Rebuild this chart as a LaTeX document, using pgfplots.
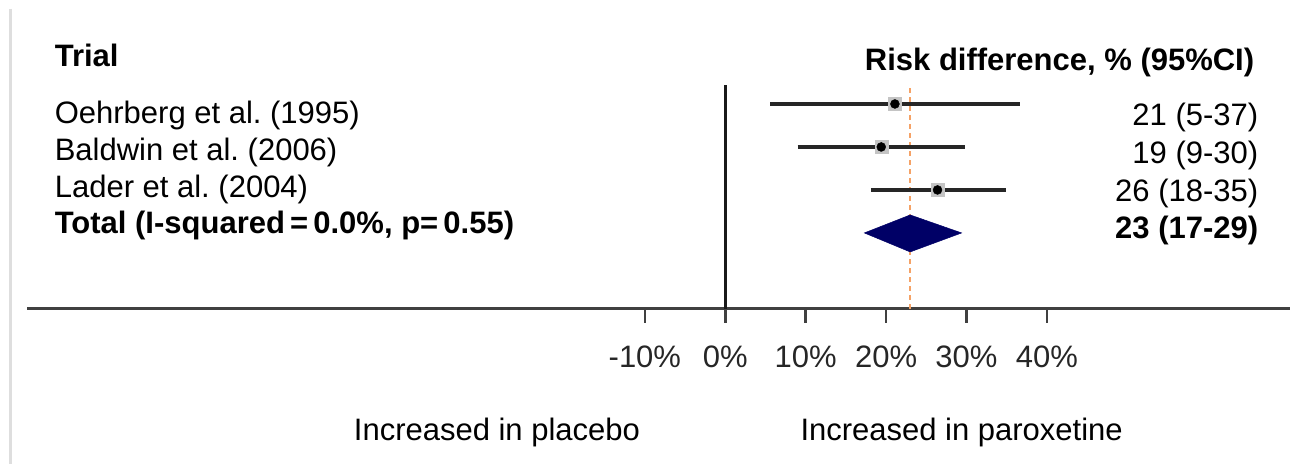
\documentclass[border=0pt]{standalone}
\usepackage{fontspec}
\setmainfont{Liberation Sans}
\usepackage{pgfplots}
\pgfplotsset{compat=1.18}
\definecolor{navy}{HTML}{000066}
\definecolor{dashorange}{HTML}{F5A266}
\definecolor{sqgray}{HTML}{C4C4C4}
\definecolor{axgray}{HTML}{404040}
\frenchspacing
\begin{document}
\fontsize{31bp}{37bp}\selectfont\frenchspacing
\begin{tikzpicture}
\begin{axis}[
  scale only axis, width=1263bp, height=464bp,
  xmin=-86.85, xmax=70.2, ymin=-155, ymax=309,
  axis x line=middle, axis y line=none,
  x axis line style={-, line width=3bp, color=axgray},
  xtick={-10,0,10,20,30,40},
  xticklabels={-10\%,0\%,10\%,20\%,30\%,40\%},
  xtick align=outside,
  major tick length=14bp,
  every tick/.style={line width=2.5bp, color=axgray},
  xticklabel style={font=\fontsize{31bp}{37bp}\selectfont, text=black!85, yshift=-12bp},
  ytick=\empty,
  clip=false,
]
% reference lines
\addplot[dashorange, line width=2bp, dash pattern=on 5bp off 4bp] coordinates {(23,0) (23,224)};
\addplot[black!90, line width=2.5bp] coordinates {(0,0) (0,224)};
% confidence intervals
\addplot[black!85, line width=3.5bp] coordinates {(5.6,205) (36.7,205)};
\addplot[black!85, line width=3.5bp] coordinates {(9.0,162) (29.8,162)};
\addplot[black!85, line width=3.5bp] coordinates {(18.1,119) (34.9,119)};
% weight squares and point estimates
\addplot[only marks, mark=square*, mark size=6.5bp, sqgray, mark options={draw=sqgray, fill=sqgray}] coordinates {(21.1,205) (19.4,162) (26.4,119)};
\addplot[only marks, mark=*, mark size=4.5bp, black] coordinates {(21.1,205) (19.4,162) (26.4,119)};
% pooled diamond
\addplot[fill=navy, draw=navy, line width=0.5bp] coordinates {(17.3,76) (23,94) (29.4,76) (23,57)} -- cycle;
% texts
\node[anchor=west, font=\bfseries] at (axis cs:-84.7,254) {Trial};
\node[anchor=west] at (axis cs:-84.7,193) {Oehrberg et al. (1995)};
\node[anchor=west] at (axis cs:-84.7,156) {Baldwin et al. (2006)};
\node[anchor=west] at (axis cs:-84.7,119) {Lader et al. (2004)};
\node[anchor=west, font=\bfseries] at (axis cs:-84.7,83) {Total (I-squared\,=\,0.0\%, p=\,0.55)};
\node[anchor=east, font=\bfseries] at (axis cs:67.1,246) {Risk difference, \% (95\%CI)};
\node[anchor=east] at (axis cs:67.6,191) {21 (5-37)};
\node[anchor=east] at (axis cs:67.6,153) {19 (9-30)};
\node[anchor=east] at (axis cs:67.6,115) {26 (18-35)};
\node[anchor=east, font=\bfseries] at (axis cs:67.6,78) {23 (17-29)};
\node at (axis cs:-28.4,-124) {Increased in placebo};
\node at (axis cs:29.4,-124) {Increased in paroxetine};
% page border at the left
\draw[line width=3bp, black!13] (axis cs:-88.9,300) -- (axis cs:-88.9,-155);
\coordinate (bl) at (axis cs:-90.21,-155);
\coordinate (tr) at (axis cs:71.86,309);
\end{axis}
\pgfresetboundingbox
\path[use as bounding box] (bl) rectangle (tr);
\end{tikzpicture}
\end{document}
